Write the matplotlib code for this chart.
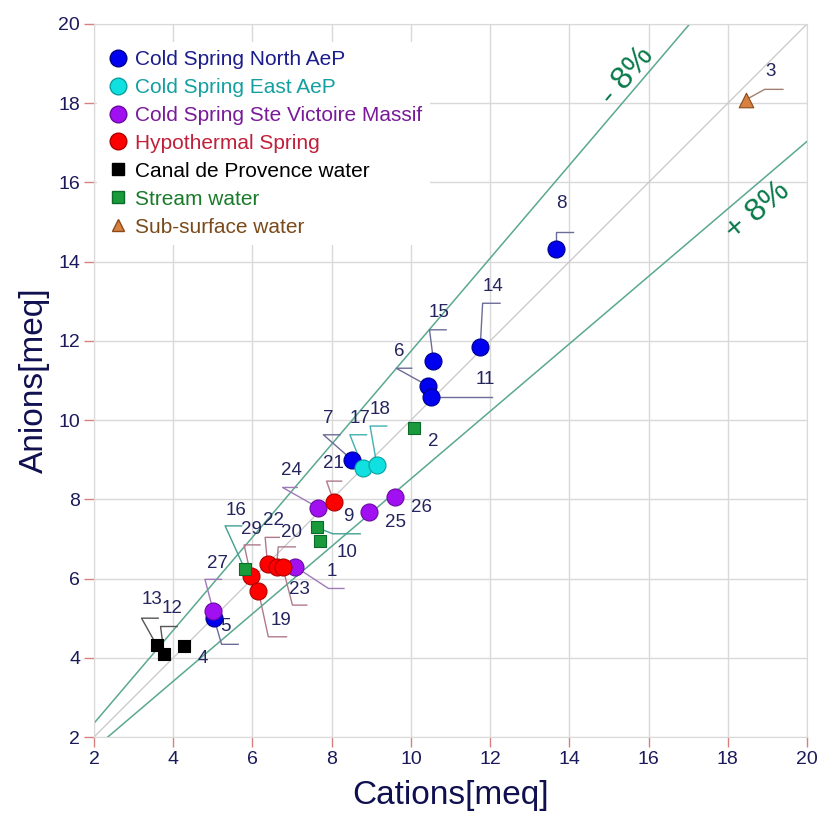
import numpy as np
import matplotlib
matplotlib.use("Agg")
import matplotlib.pyplot as plt
from matplotlib.lines import Line2D

plt.rcParams['font.family'] = ['Liberation Sans', 'DejaVu Sans']

# cations / anions in meq, with sample numbers
north_x = [13.67, 11.75, 10.57, 10.44, 10.51, 8.51, 5.03]
north_y = [14.32, 11.85, 11.49, 10.86, 10.59, 9.00, 5.00]
north_id = ["8", "14", "15", "6", "11", "7", "5"]

east_x = [8.79, 9.14]
east_y = [8.79, 8.87]
east_id = ["17", "18"]

victoire_x = [7.66, 9.60, 8.95, 7.08, 5.01]
victoire_y = [7.79, 8.07, 7.69, 6.30, 5.19]
victoire_id = ["24", "26", "25", "1", "27"]

hypo_x = [8.06, 5.96, 6.15, 6.38, 6.61, 6.76]
hypo_y = [7.93, 6.07, 5.69, 6.38, 6.30, 6.30]
hypo_id = ["21", "29", "19", "22", "20", "23"]

canal_x = [3.58, 3.77, 4.26]
canal_y = [4.32, 4.10, 4.30]
canal_id = ["13", "12", "4"]

stream_x = [10.08, 7.62, 7.71, 5.81]
stream_y = [9.80, 7.29, 6.96, 6.23]
stream_id = ["2", "9", "10", "16"]

sub_x = [18.46]
sub_y = [18.09]
sub_id = ["3"]

ticks = [2, 4, 6, 8, 10, 12, 14, 16, 18, 20]
err = 0.08

# label placement: text x, text y, elbow x, elbow y, end x (None = no leader)
labels = {
    "8": (13.79, 15.48, 13.67, 14.75, 14.10),
    "14": (12.08, 13.37, 11.81, 12.95, 12.25),
    "15": (10.72, 12.72, 10.47, 12.28, 10.89),
    "6": (9.71, 11.73, 9.63, 11.31, 10.02),
    "11": (11.87, 11.02, 10.60, 10.59, 12.04),
    "2": (10.57, 9.46, None, None, None),
    "7": (7.92, 10.05, 7.79, 9.63, 8.21),
    "17": (8.72, 10.05, 8.46, 9.63, 8.88),
    "18": (9.22, 10.27, 8.97, 9.85, 9.39),
    "21": (8.04, 8.90, 7.87, 8.46, 8.25),
    "24": (6.99, 8.74, 6.76, 8.30, 7.13),
    "26": (10.26, 7.80, None, None, None),
    "25": (9.60, 7.41, None, None, None),
    "9": (8.42, 7.56, 8.03, 7.13, 8.72),
    "10": (8.38, 6.65, None, None, None),
    "16": (5.58, 7.73, 5.31, 7.33, 5.73),
    "29": (5.98, 7.25, 5.79, 6.85, 6.19),
    "22": (6.53, 7.47, 6.32, 7.04, 6.68),
    "20": (6.98, 7.16, 6.65, 6.80, 7.08),
    "1": (8.00, 6.17, 7.92, 5.75, 8.31),
    "23": (7.18, 5.72, 7.01, 5.33, 7.37),
    "19": (6.71, 4.94, 6.40, 4.53, 6.86),
    "27": (5.12, 6.38, 4.80, 5.98, 5.22),
    "5": (5.33, 4.79, 5.22, 4.34, 5.64),
    "13": (3.47, 5.46, 3.20, 5.00, 3.62),
    "12": (3.96, 5.25, 3.68, 4.79, 4.10),
    "4": (4.75, 3.98, None, None, None),
    "3": (19.07, 18.80, 18.93, 18.35, 19.39),
}

series = [
    ("Cold Spring North AeP", north_x, north_y, north_id, 'o', '#0000f0', '#00008a', '#1c1c8c', '#6c6c98', 150),
    ("Cold Spring East AeP", east_x, east_y, east_id, 'o', '#10e0e0', '#0aa0a0', '#14a0a0', '#40b0b0', 150),
    ("Cold Spring Ste Victoire Massif", victoire_x, victoire_y, victoire_id, 'o', '#a010f0', '#6a0aa0', '#7a1a9a', '#a07ab8', 150),
    ("Hypothermal Spring", hypo_x, hypo_y, hypo_id, 'o', '#ff0000', '#b00000', '#c0203a', '#b07a8a', 150),
    ("Canal de Provence water", canal_x, canal_y, canal_id, 's', '#000000', '#000000', '#000000', '#555555', 85),
    ("Stream water", stream_x, stream_y, stream_id, 's', '#1a9a3a', '#0a6a2a', '#1a7a2a', '#40a090', 85),
    ("Sub-surface water", sub_x, sub_y, sub_id, '^', '#d88040', '#8a4a1a', '#7a4a1a', '#a08070', 110),
]

fig = plt.figure(figsize=(8.21, 8.19), dpi=100)
ax = fig.add_axes([0.1145, 0.1001, 0.8685, 0.8706])

ax.set_xlim(2, 20)
ax.set_ylim(2, 20)
ax.set_xticks(ticks)
ax.set_yticks(ticks)
ax.grid(True, color='#d9d9d9', linewidth=1)
ax.set_axisbelow(True)
for s in ax.spines.values():
    s.set_color('#d9d9d9')
ax.tick_params(direction='out', length=7, width=1, color='#d88080',
               labelcolor='#1a1a5a', labelsize=14, pad=3)

# 1:1 line and the +/- 8 % balance limits
xx = np.linspace(2, 20, 200)
ax.plot(xx, xx, color='#c8c8c8', lw=0.9, zorder=1)
ax.plot(xx, xx * (1 + err) / (1 - err), color='#5aa890', lw=1.1, zorder=1)
ax.plot(xx, xx * (1 - err) / (1 + err), color='#5aa890', lw=1.1, zorder=1)
ax.text(15.46, 18.69, "- 8%", color='#0a7a4a', fontsize=23, rotation=49.6,
        ha='center', va='center', rotation_mode='anchor')
ax.text(18.75, 15.27, "+ 8%", color='#0a7a4a', fontsize=23, rotation=40.4,
        ha='center', va='center', rotation_mode='anchor')

handles = []
for i, (name, x, y, ids, mk, fc, ec, tc, lc, sz) in enumerate(series):
    ax.scatter(x, y, marker=mk, s=sz, facecolor=fc, edgecolor=ec, linewidth=0.8, zorder=5 + i)
    for px, py, sid in zip(x, y, ids):
        tx, ty, ex, ey, hx = labels[sid]
        if ex is not None:
            ax.plot([px, ex, hx], [py, ey, ey], color=lc, lw=1, zorder=3)
        ax.text(tx, ty, sid, color='#24245e', fontsize=13.5, ha='center', va='center', zorder=4)
    handles.append(Line2D([], [], marker=mk, linestyle='none', markerfacecolor=fc,
                          markeredgecolor=ec, markersize=12 if mk == 'o' else 9,
                          label=name))

leg = ax.legend(handles=handles, loc='upper left', bbox_to_anchor=(-0.01, 0.99),
                fontsize=15, frameon=True, facecolor='white', edgecolor='none',
                framealpha=1, handletextpad=0.2, labelspacing=0.43,
                borderpad=0.4, handlelength=1.2)
leg.set_zorder(2)
for t, s in zip(leg.get_texts(), series):
    t.set_color(s[7])

ax.set_xlabel("Cations[meq]", fontsize=24, color='#101050', labelpad=9)
ax.set_ylabel("Anions[meq]", fontsize=24, color='#101050', labelpad=6)

fig.savefig("out.png", dpi=100)
